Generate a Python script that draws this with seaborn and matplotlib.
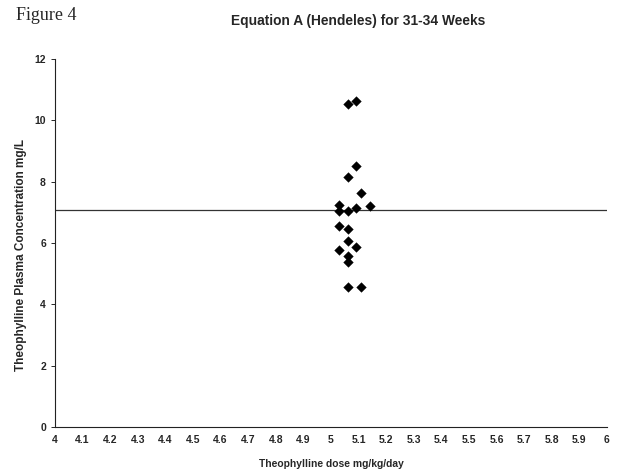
import numpy as np
import pandas as pd
import matplotlib
matplotlib.use('Agg')
import matplotlib.pyplot as plt
import seaborn as sns

# values
dose = [5.06, 5.09, 5.09, 5.06, 5.11, 5.03, 5.14, 5.03, 5.06, 5.09,
        5.03, 5.06, 5.06, 5.03, 5.09, 5.06, 5.06, 5.06, 5.11]
conc = [10.53, 10.63, 8.52, 8.14, 7.64, 7.24, 7.21, 7.05, 7.04, 7.15,
        6.56, 6.47, 6.05, 5.76, 5.86, 5.59, 5.37, 4.56, 4.56]
ref_level = 7.07
x_ticks = [round(4 + 0.1 * i, 1) for i in range(21)]
y_ticks = [0, 2, 4, 6, 8, 10, 12]

df = pd.DataFrame({'dose': dose, 'conc': conc})

sns.set_style('ticks')
plt.rcParams['font.family'] = ['Liberation Sans', 'DejaVu Sans']

fig = plt.figure(figsize=(6.36, 4.75), dpi=100)
ax = fig.add_axes([55 / 636, 1 - 427 / 475, 552 / 636, 368 / 475])

ax.axhline(ref_level, color='#333333', lw=0.9, zorder=1)
sns.scatterplot(data=df, x='dose', y='conc', marker='D', s=24,
                color='black', edgecolor='black', linewidth=0.3, ax=ax, zorder=3)

ax.set_xlim(4, 6)
ax.set_ylim(0, 12)
ax.set_xticks(x_ticks)
ax.set_xticklabels([f'{v:g}' for v in x_ticks], fontsize=7.5, fontweight='bold')
ax.set_yticks(y_ticks)
ax.set_yticklabels([str(v) for v in y_ticks], fontsize=7.5, fontweight='bold')
ax.tick_params(axis='x', length=0, pad=6)
ax.tick_params(axis='y', length=3, width=0.7, pad=3.5)

sns.despine(ax=ax)
for side in ['left', 'bottom']:
    ax.spines[side].set_linewidth(0.8)
    ax.spines[side].set_color('#222222')

ax.set_xlabel('Theophylline dose mg/kg/day', fontsize=7.4, fontweight='bold')
ax.xaxis.set_label_coords(0.5, -0.087)
ax.set_ylabel('Theophylline Plasma Concentration mg/L', fontsize=8.5, fontweight='bold')
ax.yaxis.set_label_coords(-0.051, 0.467)

fig.text(358 / 636, 1 - 21 / 475, 'Equation A (Hendeles) for 31-34 Weeks',
         ha='center', va='center', fontsize=9.9, fontweight='bold')
fig.text(16 / 636, 1 - 15 / 475, 'Figure 4', ha='left', va='center',
         fontsize=13, family=['Liberation Serif', 'DejaVu Serif'])

fig.savefig('out.png', dpi=100)
